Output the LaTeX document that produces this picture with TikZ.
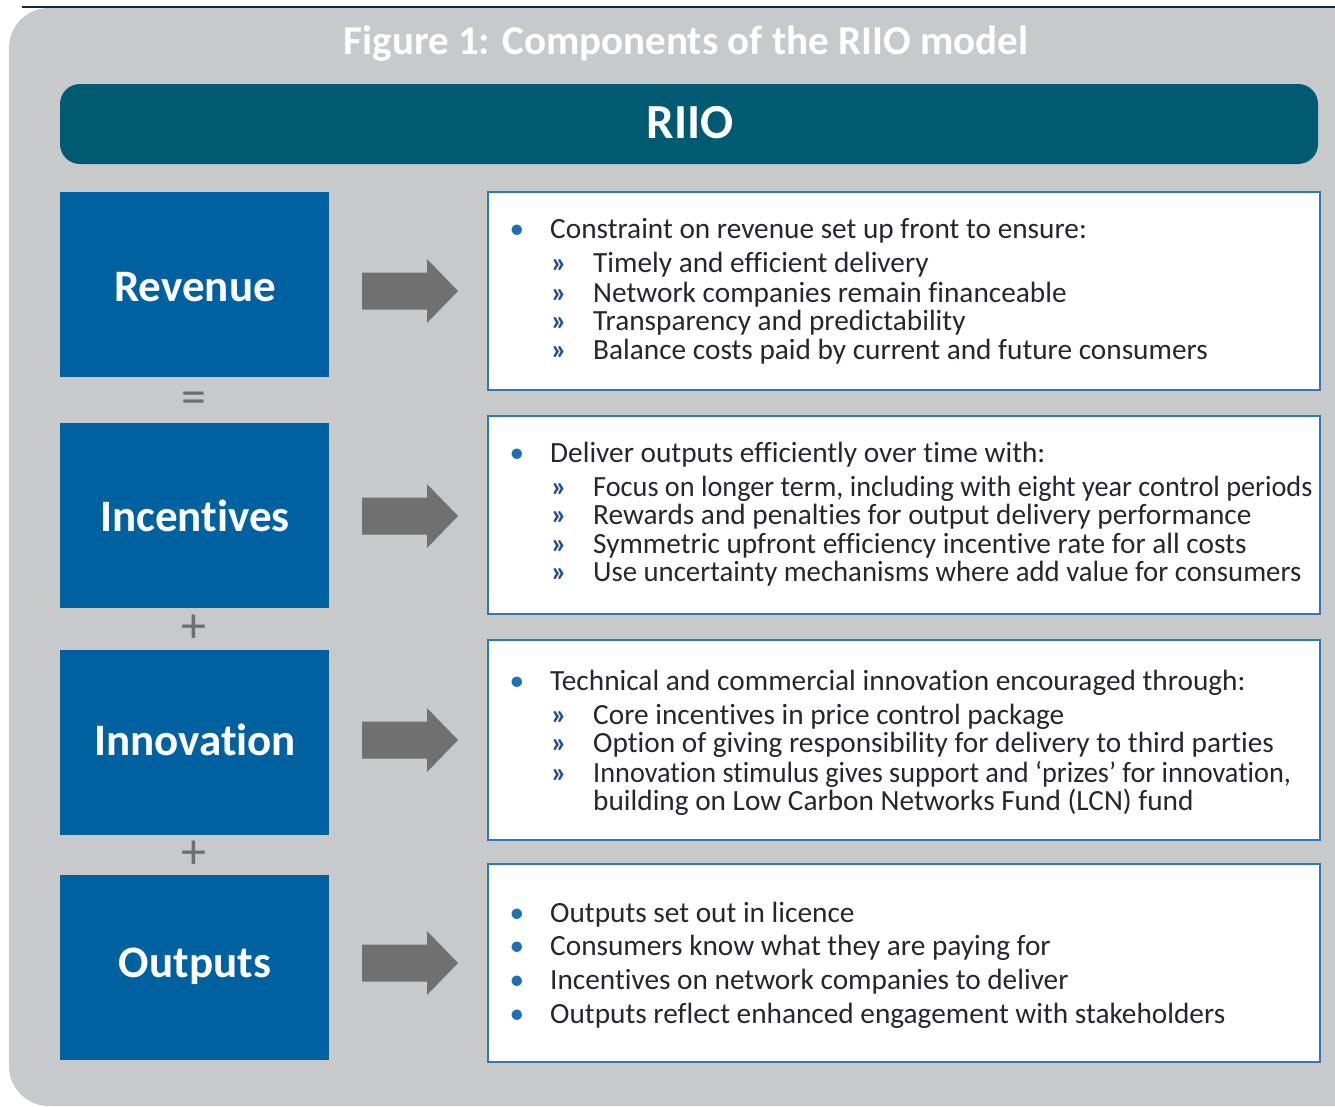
\documentclass[tikz,border=0pt]{standalone}
\usepackage{fontspec}
\usepackage{graphicx}
\setmainfont{Carlito}[Ligatures=NoCommon]
\definecolor{bggray}{HTML}{C8C9CB}
\definecolor{teal}{HTML}{005A72}
\definecolor{boxblue}{HTML}{0061A0}
\definecolor{arrgray}{HTML}{707070}
\definecolor{brdblue}{HTML}{2E78B8}
\definecolor{bulblue}{HTML}{1F6FB5}
\definecolor{guilblue}{HTML}{1F4F96}
\definecolor{txt}{HTML}{262630}
\definecolor{topline}{HTML}{0B2A4A}
\definecolor{symgray}{HTML}{6E6E6E}
\begin{document}
\begin{tikzpicture}[x=1pt,y=-1pt,
  leftbox/.style={fill=boxblue, draw=none, minimum width=269pt, minimum height=185pt, inner sep=0pt,
    text=white, font=\fontsize{45}{48}\selectfont\bfseries},
  rightbox/.style={fill=white, draw=brdblue, line width=1.5pt, minimum width=832pt, inner sep=0pt},
  line/.style={anchor=base west, inner sep=0pt, text=txt, font=\fontsize{29.3}{32}\selectfont},
  dot/.style={anchor=base, inner sep=0pt, text=bulblue, font=\fontsize{29.3}{32}\selectfont},
  guil/.style={anchor=base, inner sep=0pt, text=guilblue, font=\fontsize{29.3}{32}\selectfont\bfseries},
  sym/.style={inner sep=0pt, text=symgray, font=\fontsize{50}{50}\selectfont}]
\useasboundingbox (0,0) rectangle (1335,1106);
% background
\fill[bggray, rounded corners=40pt] (9,8) rectangle (1400,1106);
\draw[topline, line width=2pt] (22,7) -- (1335,7);
% title
\node[anchor=base, inner sep=0pt, text=white, font=\fontsize{41}{44}\selectfont\bfseries] (title) at (686,54) {Figure 1: Components of the RIIO model};
% RIIO bar
\node[fill=teal, rounded corners=20pt, minimum width=1258pt, minimum height=80pt, inner sep=0pt] (riio) at (689,124) {};
\node[anchor=base, inner sep=0pt, text=white, font=\fontsize{49}{52}\selectfont\bfseries] (riiotext) at (690,138) {RIIO};
% left boxes
\node[leftbox] (rev) at (194.5,284.5) {};
\node[leftbox] (inc) at (194.5,515) {};
\node[leftbox] (inn) at (194.5,742) {};
\node[leftbox] (out) at (194.5,967) {};
\node[anchor=base, inner sep=0pt, text=white, font=\fontsize{45}{48}\selectfont\bfseries] (revt) at (195,301) {Revenue};
\node[anchor=base, inner sep=0pt, text=white, font=\fontsize{45}{48}\selectfont\bfseries] (inct) at (195,531) {Incentives};
\node[anchor=base, inner sep=0pt, text=white, font=\fontsize{45}{48}\selectfont\bfseries] (innt) at (195,755) {Innovation};
\node[anchor=base, inner sep=0pt, text=white, font=\fontsize{45}{48}\selectfont\bfseries] (outt) at (195,977) {Outputs};
% symbols
\node[sym] (eq) at (194,403) {=};
\node[sym] (pl1) at (194,629) {+};
\node[sym] (pl2) at (194,855) {+};
% right boxes
\node[rightbox, minimum height=198pt] (r1) at (904,291) {};
\node[rightbox, minimum height=198pt] (r2) at (904,515) {};
\node[rightbox, minimum height=200pt] (r3) at (904,740) {};
\node[rightbox, minimum height=198pt] (r4) at (904,963) {};
% arrows
\foreach \yy in {291, 516, 740, 963}{
  \fill[arrgray] (362,\yy-18.5) -- (427,\yy-18.5) -- (427,\yy-32) -- (458,\yy) -- (427,\yy+32)
     -- (427,\yy+18.5) -- (362,\yy+18.5) -- cycle;
}
% box 1
\node[dot] (b1) at (517,238) {•};
\node[line] (t1) at (550,238) {Constraint on revenue set up front to ensure:};
\node[guil] (s11) at (559,272) {»};
\node[line] (t11) at (593,272) {Timely and efficient delivery};
\node[guil] (s12) at (559,302) {»};
\node[line] (t12) at (593,302) {Network companies remain financeable};
\node[guil] (s13) at (559,330) {»};
\node[line] (t13) at (593,330) {Transparency and predictability};
\node[guil] (s14) at (559,359) {»};
\node[line] (t14) at (593,359) {Balance costs paid by current and future consumers};
% box 2
\node[dot] (b2) at (517,462) {•};
\node[line] (t2) at (550,462) {Deliver outputs efficiently over time with:};
\node[guil] (s21) at (559,496) {»};
\node[line] (t21) at (593,496) {\scalebox{0.965}[1]{Focus on longer term, including with eight year control periods}};
\node[guil] (s22) at (559,524) {»};
\node[line] (t22) at (593,524) {Rewards and penalties for output delivery performance};
\node[guil] (s23) at (559,553) {»};
\node[line] (t23) at (593,553) {Symmetric upfront efficiency incentive rate for all costs};
\node[guil] (s24) at (559,581) {»};
\node[line] (t24) at (593,581) {\scalebox{0.98}[1]{Use uncertainty mechanisms where add value for consumers}};
% box 3
\node[dot] (b3) at (517,690) {•};
\node[line] (t3) at (550,690) {Technical and commercial innovation encouraged through:};
\node[guil] (s31) at (559,724) {»};
\node[line] (t31) at (593,724) {Core incentives in price control package};
\node[guil] (s32) at (559,752) {»};
\node[line] (t32) at (593,752) {Option of giving responsibility for delivery to third parties};
\node[guil] (s33) at (559,782) {»};
\node[line] (t33) at (593,782) {\scalebox{0.965}[1]{Innovation stimulus gives support and ‘prizes’ for innovation,}};
\node[line] (t34) at (593,810) {building on Low Carbon Networks Fund (LCN) fund};
% box 4
\node[dot] (b41) at (517,922) {•};
\node[line] (t41) at (550,922) {Outputs set out in licence};
\node[dot] (b42) at (517,955) {•};
\node[line] (t42) at (550,955) {Consumers know what they are paying for};
\node[dot] (b43) at (517,989) {•};
\node[line] (t43) at (550,989) {Incentives on network companies to deliver};
\node[dot] (b44) at (517,1023) {•};
\node[line] (t44) at (550,1023) {Outputs reflect enhanced engagement with stakeholders};
\end{tikzpicture}
\end{document}
